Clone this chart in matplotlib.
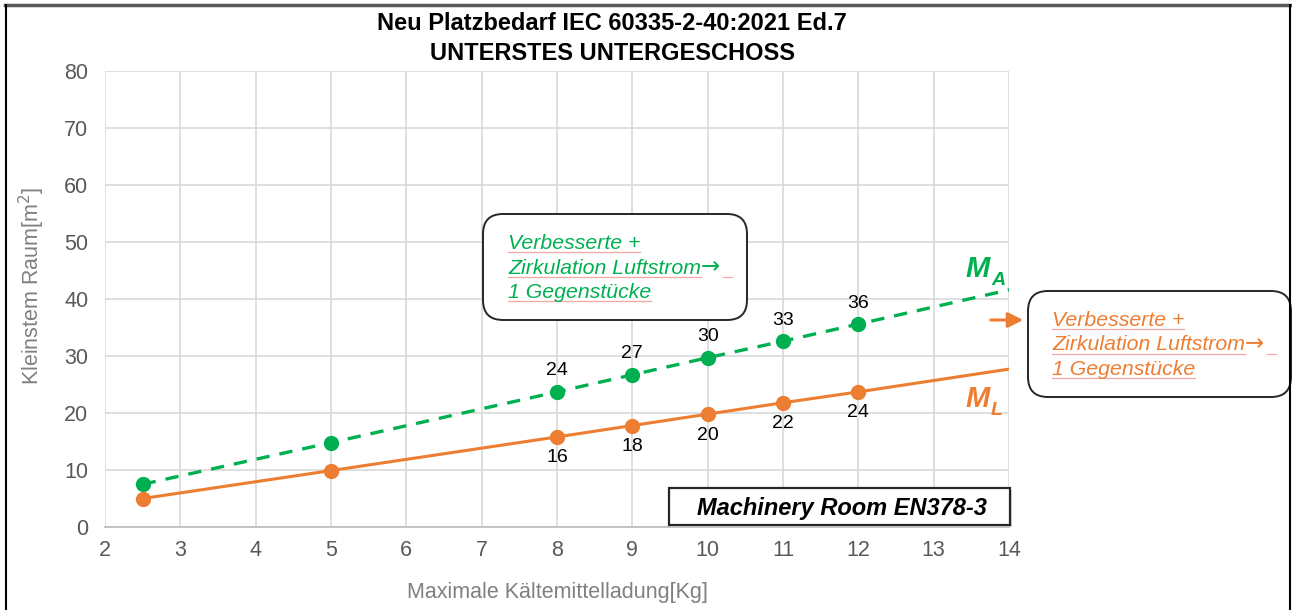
import matplotlib
matplotlib.use("Agg")
import matplotlib.pyplot as plt
from matplotlib.patches import FancyBboxPatch, Rectangle
from matplotlib.lines import Line2D

plt.rcParams['font.family'] = ['Liberation Sans', 'DejaVu Sans']

# data
x_points = [2.5, 5, 8, 9, 10, 11, 12]
ma_values = [7.5, 14.8, 23.7, 26.7, 29.7, 32.6, 35.6]
ml_values = [5.0, 9.9, 15.8, 17.8, 19.8, 21.8, 23.7]
x_end = 14
ma_end = 41.6
ml_end = 27.7
label_x = [8, 9, 10, 11, 12]
ma_labels = [24, 27, 30, 33, 36]
ml_labels = [16, 18, 20, 22, 24]
x_ticks = list(range(2, 15))
y_ticks = list(range(0, 81, 10))

GREEN = '#00b050'
ORANGE = '#ed7d31'
GRID = '#d9d9d9'
TICK = '#595959'
LABEL = '#808080'

W, H = 1292, 610
fig = plt.figure(figsize=(W / 100, H / 100), dpi=100)
ax = fig.add_axes([105 / W, 1 - 527 / H, 904 / W, 456 / H])


def inch(x, y):
    # reference pixel position -> inches from bottom left
    return x / 100, (H - y) / 100


tr = fig.dpi_scale_trans

# series
ax.plot(x_points + [x_end], ma_values + [ma_end], color=GREEN, lw=2.4,
        dashes=(4, 3), zorder=3)
ax.plot(x_points + [x_end], ml_values + [ml_end], color=ORANGE, lw=2.2,
        zorder=3)
ax.plot(x_points, ma_values, 'o', color=GREEN, ms=10, zorder=4)
ax.plot(x_points, ml_values, 'o', color=ORANGE, ms=10, zorder=4)

for xv, lab in zip(label_x, ma_labels):
    yv = ma_values[x_points.index(xv)]
    ax.annotate(str(lab), (xv, yv), xytext=(0, 9), textcoords='offset points',
                ha='center', va='bottom', fontsize=14, color='black')
for xv, lab in zip(label_x, ml_labels):
    yv = ml_values[x_points.index(xv)]
    ax.annotate(str(lab), (xv, yv), xytext=(0, -9), textcoords='offset points',
                ha='center', va='top', fontsize=14, color='black')

# axes styling
ax.set_xlim(2, 14)
ax.set_ylim(0, 80)
ax.set_xticks(x_ticks)
ax.set_yticks(y_ticks)
ax.grid(True, color=GRID, lw=1.2)
ax.set_axisbelow(True)
for s in ['top', 'right', 'left']:
    ax.spines[s].set_visible(False)
ax.spines['bottom'].set_color('#bfbfbf')
ax.spines['bottom'].set_linewidth(1.3)
ax.tick_params(length=0, labelsize=15.5, labelcolor=TICK)
ax.tick_params(axis='x', pad=9.5)
ax.tick_params(axis='y', pad=12)

ax.set_xlabel('Maximale Kältemittelladung[Kg]', fontsize=15.5, color=LABEL)
ax.xaxis.set_label_coords(0.5, -0.12)
ax.set_ylabel('Kleinstem Raum[m$^2$]', fontsize=15.5, color=LABEL)
ax.yaxis.set_label_coords(-0.064, 0.53)

fig.text(*inch(612, 23), 'Neu Platzbedarf IEC 60335-2-40:2021 Ed.7', transform=tr,
         ha='center', va='center', fontsize=17, fontweight='bold')
fig.text(*inch(612, 53), 'UNTERSTES UNTERGESCHOSS', transform=tr,
         ha='center', va='center', fontsize=17, fontweight='bold')

# figure frame
fig.add_artist(Line2D([5 / W, 1290 / W], [1 - 5 / H, 1 - 5 / H], color='#595959', lw=2.5))
fig.add_artist(Line2D([5.5 / W, 5.5 / W], [0, 1 - 5 / H], color='black', lw=1.5))
fig.add_artist(Line2D([1290 / W, 1290 / W], [0, 1 - 5 / H], color='black', lw=1.5))

# callout boxes
under = []
arrow_after = []


def callout(x0, y0, x1, y1, color, lines, tx, ty0, step):
    bx, by = inch(x0, y1)
    fig.add_artist(FancyBboxPatch((bx, by), (x1 - x0) / 100, (y1 - y0) / 100,
                                  boxstyle='round,pad=0,rounding_size=0.2',
                                  transform=tr, fc='white', ec='#262626', lw=1.4))
    for i, line in enumerate(lines):
        t = fig.text(*inch(tx, ty0 + i * step), line, transform=tr, color=color,
                     fontsize=15.3, style='italic', va='baseline', ha='left')
        under.append(t)
        if i == 1:
            arrow_after.append(t)


box_lines = ['Verbesserte +', 'Zirkulation Luftstrom', '1 Gegenstücke']
callout(483, 214, 747, 320, GREEN, box_lines, 508, 249, 24.5)
callout(1028, 291, 1291, 397, ORANGE, box_lines, 1052, 326, 24.5)

ax.annotate('', xy=inch(1026, 320), xytext=inch(988, 320),
            xycoords=tr, textcoords=tr,
            arrowprops=dict(arrowstyle='-|>,head_length=0.9,head_width=0.45',
                            color=ORANGE, lw=2.2), annotation_clip=False)

# series names
fig.text(*inch(965, 277), 'M', transform=tr, color=GREEN, fontsize=21,
         fontweight='bold', style='italic', va='baseline')
fig.text(*inch(991, 285), 'A', transform=tr, color=GREEN, fontsize=14,
         fontweight='bold', style='italic', va='baseline')
fig.text(*inch(965, 407), 'M', transform=tr, color=ORANGE, fontsize=21,
         fontweight='bold', style='italic', va='baseline')
fig.text(*inch(991, 415), 'L', transform=tr, color=ORANGE, fontsize=14,
         fontweight='bold', style='italic', va='baseline')

# machinery room box
fig.add_artist(Rectangle(inch(671, 527), 341 / 100, 37 / 100, transform=tr,
                         fc='#d9d9d9', ec='none'))
fig.add_artist(Rectangle(inch(669, 525), 341 / 100, 37 / 100, transform=tr,
                         fc='white', ec='#262626', lw=1.6))
fig.text(*inch(697, 515), 'Machinery Room EN378-3', transform=tr, fontsize=17,
         fontweight='bold', style='italic', va='baseline')

# arrows after "Luftstrom" and pink underline of the callout text
fig.canvas.draw()
r = fig.canvas.get_renderer()
for t in arrow_after:
    bb = t.get_window_extent(r)
    x, y = t.get_position()
    a = fig.text(bb.x1 / 100, y, '\u2192', transform=tr, color=t.get_color(),
                 fontsize=16.5, family='DejaVu Sans', va='baseline', ha='left')
    ab = a.get_window_extent(r)
    yy = (bb.y0 + 1) / H
    fig.add_artist(Line2D([(ab.x1 + 3) / W, (ab.x1 + 12) / W], [yy, yy],
                          color='#f2a6a6', lw=0.9))
for t in under:
    bb = t.get_window_extent(r)
    yy = (bb.y0 + 1) / H
    fig.add_artist(Line2D([bb.x0 / W, bb.x1 / W], [yy, yy],
                          color='#f2a6a6', lw=0.9))

fig.savefig('out.png', dpi=100)
